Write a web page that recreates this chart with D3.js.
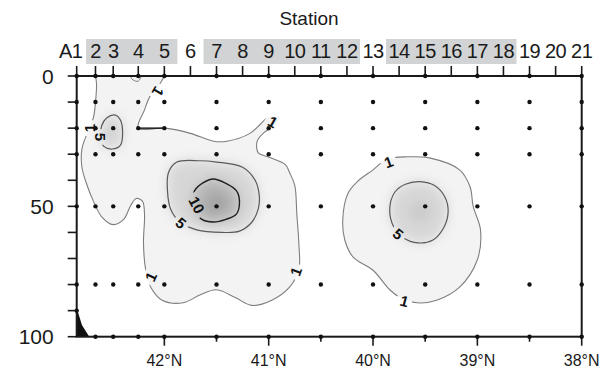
<!DOCTYPE html>
<html>
<head>
<meta charset="utf-8">
<script src="https://cdn.jsdelivr.net/npm/d3@7"></script>
<style>
  html, body { margin: 0; padding: 0; background: #fff; }
  svg { display: block; font-family: "Liberation Sans", Arial, sans-serif; }
</style>
</head>
<body>
<svg id="chart" width="610" height="372"></svg>
<script>
// Stations along the transect and their latitude (°N)
const stationNames = ['A1', '2', '3', '4', '5', '6', '7', '8', '9', '10', '11', '12', '13', '14', '15', '16', '17', '18', '19', '20', '21'];
const stationLats = [42.84, 42.66, 42.49, 42.25, 42.00, 41.75, 41.50, 41.25, 41.00, 40.75, 40.50, 40.25, 40.00, 39.75, 39.50, 39.25, 39.00, 38.75, 38.50, 38.25, 38.00];
// Stations that were sampled, and at which depths (m)
const sampledStations = ['A1', '2', '3', '4', '5', '7', '9', '11', '13', '15', '17', '19', '21'];
const sampleDepths = [0, 10, 20, 30, 50, 80, 100];
const sampleDepthsA1 = [0, 10, 20, 30, 50, 80, 90];
// Station groups highlighted in the top label row
const stationGroups = [['2', '5'], ['7', '12'], ['14', '18']];

const latTicks = [42, 41, 40, 39, 38];
const latMinorTicks = [41.5, 40.5, 39.5, 38.5];
const depthTicks = [0, 10, 20, 30, 40, 50, 60, 70, 80, 90, 100];
const depthLabels = [0, 50, 100];

// Sea floor near station A1: [lat, depth]
const seafloor = [[42.84, 89], [42.79, 95.5], [42.72, 100]];

// Concentration maxima: [lat, depth, value]
const peaks = [[41.50, 49, 14], [39.55, 52, 8], [42.50, 21, 6.5]];

// Contour lines read off the section: [lat, depth]
// level 1, western patch (open, both ends on the surface)
const contour1West = [
  [42.66, 0], [42.65, 3], [42.66, 10], [42.68, 16], [42.74, 22], [42.79, 28], [42.79, 35], [42.74, 42],
  [42.68, 48], [42.60, 54], [42.49, 57], [42.39, 55], [42.32, 49.5], [42.27, 47], [42.21, 48], [42.19, 53],
  [42.20, 64], [42.18, 74], [42.13, 81], [42.02, 86], [41.82, 87], [41.66, 84], [41.50, 82], [41.32, 85],
  [41.16, 88], [40.97, 86], [40.80, 81], [40.71, 74], [40.71, 65], [40.73, 53], [40.75, 42], [40.80, 37],
  [40.84, 34], [41.01, 31], [41.10, 29.5], [41.11, 25], [41.04, 21.5], [40.94, 19], [40.90, 16], [41.01, 16],
  [41.08, 18.5], [41.18, 22], [41.40, 25], [41.53, 25], [41.75, 22], [41.99, 20], [42.25, 20], [42.19, 13],
  [42.14, 8], [42.07, 4.6], [42.02, 1.5], [42.00, 0]
];
const contour1Notch = [[42.33, 0], [42.30, 1.5], [42.25, 2], [42.22, 0]];
// level 1, eastern patch
const contour1East = [
  [39.87, 32], [39.67, 31], [39.45, 31.5], [39.17, 36], [39.07, 42.5], [39.04, 50], [38.97, 59], [39.00, 70.5],
  [39.17, 81], [39.39, 86], [39.58, 87], [39.74, 85], [39.84, 82], [40.00, 74.5], [40.19, 69.5], [40.27, 63],
  [40.29, 55], [40.24, 45], [40.15, 40.5], [40.00, 36]
];
// level 5
const contour5West = [
  [42.55, 16], [42.47, 15], [42.42, 17], [42.40, 22], [42.42, 26.5], [42.50, 28], [42.58, 27], [42.61, 24], [42.60, 19]
];
const contour5Mid = [
  [41.88, 33], [41.66, 32.5], [41.50, 33], [41.25, 35], [41.13, 40], [41.09, 46], [41.10, 51], [41.16, 56],
  [41.28, 59.5], [41.45, 60], [41.69, 59], [41.85, 56], [41.94, 51], [41.97, 44], [41.96, 37]
];
const contour5East = [
  [39.84, 51], [39.79, 44.5], [39.69, 41.5], [39.55, 40.5], [39.41, 42], [39.31, 46.5], [39.28, 52], [39.32, 58],
  [39.43, 63], [39.57, 64], [39.71, 62], [39.80, 58]
];
// level 10
const contour10Mid = [
  [41.71, 44], [41.63, 41], [41.53, 39.5], [41.42, 41], [41.31, 44], [41.28, 48], [41.31, 53], [41.41, 55],
  [41.53, 56], [41.64, 55], [41.70, 52], [41.73, 48]
];
// A stretch of the level-1 line that runs along the 20 m sampling row
const ridge20m = [[42.25, 20], [42.00, 20]];

// Contour labels: [text, lat, depth, angle]
const contourLabels = [
  ['1', 42.06, 6, 120], ['1', 42.72, 20, -90], ['5', 42.61, 23.4, 90], ['1', 40.96, 17.6, 30],
  ['10', 41.69, 49.5, 62], ['5', 41.84, 56.4, 40], ['1', 42.13, 77, -65], ['1', 40.74, 75, -70],
  ['1', 39.85, 33, -20], ['5', 39.76, 60.6, 40], ['1', 39.70, 86.3, 15]
];

const svg = d3.select('#chart');
const x = d3.scaleLinear().domain([42.84, 38]).range([76.7, 581.7]);
const y = d3.scaleLinear().domain([0, 100]).range([76, 336.7]);
const shade = d3.scaleLinear().domain([0, 15]).range(['#ffffff', '#9a9a9a']);
const latOf = name => stationLats[stationNames.indexOf(name)];

const openLine = d3.line().x(d => x(d[0])).y(d => y(d[1])).curve(d3.curveCatmullRom.alpha(0.5));
const closedLine = d3.line().x(d => x(d[0])).y(d => y(d[1])).curve(d3.curveCatmullRomClosed.alpha(0.5));

const defs = svg.append('defs');
defs.append('clipPath').attr('id', 'plot-clip')
  .append('rect')
  .attr('x', x(42.84)).attr('y', y(0))
  .attr('width', x(38) - x(42.84)).attr('height', y(100) - y(0));

const c1Clip = defs.append('clipPath').attr('id', 'c1-clip');
c1Clip.append('path').attr('d', openLine(contour1West) + 'Z');
c1Clip.append('path').attr('d', closedLine(contour1East));

defs.append('filter').attr('id', 'soft')
  .attr('x', '-30%').attr('y', '-30%').attr('width', '160%').attr('height', '160%')
  .append('feGaussianBlur').attr('stdDeviation', 6);

// gaps in the contour lines where the labels sit
const gapMask = defs.append('mask').attr('id', 'label-gaps')
  .attr('maskUnits', 'userSpaceOnUse')
  .attr('x', 0).attr('y', 0).attr('width', 610).attr('height', 372);
gapMask.append('rect').attr('width', 610).attr('height', 372).attr('fill', '#fff');
gapMask.selectAll('rect.gap')
  .data(contourLabels)
  .join('rect')
  .attr('class', 'gap')
  .attr('x', d => -(d[0].length * 4.8 + 3))
  .attr('y', -7.5)
  .attr('width', d => d[0].length * 9.6 + 6)
  .attr('height', 15)
  .attr('fill', '#000')
  .attr('transform', d => `translate(${x(d[1])},${y(d[2])}) rotate(${d[3]})`);

// Shading
const shadeG = svg.append('g').attr('clip-path', 'url(#plot-clip)');
shadeG.append('path').attr('d', openLine(contour1West) + 'Z').attr('fill', shade(1.8));
shadeG.append('path').attr('d', closedLine(contour1East)).attr('fill', shade(1.8));

const innerG = shadeG.append('g').attr('clip-path', 'url(#c1-clip)')
  .append('g').attr('filter', 'url(#soft)');
[contour5West, contour5Mid, contour5East].forEach(c => {
  innerG.append('path').attr('d', closedLine(c)).attr('fill', shade(6));
});
innerG.append('path').attr('d', closedLine(contour10Mid)).attr('fill', shade(11));
innerG.selectAll('circle')
  .data(peaks)
  .join('circle')
  .attr('cx', d => x(d[0]))
  .attr('cy', d => y(d[1]))
  .attr('r', 10)
  .attr('fill', d => shade(d[2]));

// Contour lines
const lineG = svg.append('g')
  .attr('clip-path', 'url(#plot-clip)')
  .append('g')
  .attr('mask', 'url(#label-gaps)')
  .attr('fill', 'none');
lineG.append('path').attr('d', openLine(contour1West)).attr('stroke', '#7e7e7e').attr('stroke-width', 1.1);
lineG.append('path').attr('d', openLine(contour1Notch)).attr('stroke', '#7e7e7e').attr('stroke-width', 1);
lineG.append('path').attr('d', closedLine(contour1East)).attr('stroke', '#7e7e7e').attr('stroke-width', 1.1);
[contour5West, contour5Mid, contour5East].forEach(c => {
  lineG.append('path').attr('d', closedLine(c)).attr('stroke', '#5a5a5a').attr('stroke-width', 1.2);
});
lineG.append('path').attr('d', closedLine(contour10Mid)).attr('stroke', '#1e1e1e').attr('stroke-width', 1.4);
svg.append('path')
  .attr('d', d3.line().x(d => x(d[0])).y(d => y(d[1]))(ridge20m))
  .attr('stroke', '#111').attr('stroke-width', 1.4).attr('fill', 'none');

// Contour labels
svg.append('g')
  .selectAll('text')
  .data(contourLabels)
  .join('text')
  .attr('transform', d => `translate(${x(d[1])},${y(d[2])}) rotate(${d[3]})`)
  .attr('text-anchor', 'middle')
  .attr('dy', '0.36em')
  .attr('font-size', 15)
  .attr('font-weight', 'bold')
  .attr('fill', '#111')
  .text(d => d[0]);

// Sea floor
svg.append('path')
  .datum(seafloor)
  .attr('d', d3.area().x(d => x(d[0])).y0(y(100)).y1(d => y(d[1])))
  .attr('fill', '#111');

// Frame
svg.append('rect')
  .attr('x', x(42.84)).attr('y', y(0))
  .attr('width', x(38) - x(42.84)).attr('height', y(100) - y(0))
  .attr('fill', 'none').attr('stroke', '#1a1a1a').attr('stroke-width', 2);

// Top ticks (one per station)
svg.append('g').selectAll('line')
  .data(stationLats)
  .join('line')
  .attr('x1', d => x(d)).attr('x2', d => x(d))
  .attr('y1', y(0)).attr('y2', y(0) - 10)
  .attr('stroke', '#1a1a1a').attr('stroke-width', 1.6);

// Left ticks and labels
svg.append('g').selectAll('line')
  .data(depthTicks)
  .join('line')
  .attr('x1', x(42.84) - 9).attr('x2', x(42.84))
  .attr('y1', d => y(d)).attr('y2', d => y(d))
  .attr('stroke', '#1a1a1a').attr('stroke-width', 1.6);
svg.append('g').selectAll('text')
  .data(depthLabels)
  .join('text')
  .attr('x', x(42.84) - 23)
  .attr('y', d => y(d))
  .attr('dy', '0.36em')
  .attr('text-anchor', 'end')
  .attr('font-size', 21)
  .attr('fill', '#1a1a1a')
  .text(d => d);

// Bottom ticks and labels
svg.append('g').selectAll('line')
  .data(latTicks)
  .join('line')
  .attr('x1', d => x(d)).attr('x2', d => x(d))
  .attr('y1', y(100)).attr('y2', y(100) + 9)
  .attr('stroke', '#1a1a1a').attr('stroke-width', 1.6);
svg.append('g').selectAll('line')
  .data(latMinorTicks)
  .join('line')
  .attr('x1', d => x(d)).attr('x2', d => x(d))
  .attr('y1', y(100)).attr('y2', y(100) + 5)
  .attr('stroke', '#1a1a1a').attr('stroke-width', 1.6);
svg.append('g').selectAll('text')
  .data(latTicks)
  .join('text')
  .attr('x', d => x(d))
  .attr('y', 366)
  .attr('text-anchor', 'middle')
  .attr('font-size', 16)
  .attr('fill', '#1a1a1a')
  .text(d => `${d}°N`);

// Sample positions
const samples = sampledStations.flatMap(s =>
  (s === 'A1' ? sampleDepthsA1 : sampleDepths).map(dep => [latOf(s), dep]));
svg.append('g').selectAll('circle')
  .data(samples)
  .join('circle')
  .attr('cx', d => x(d[0]))
  .attr('cy', d => y(d[1]))
  .attr('r', 2.2)
  .attr('fill', '#111');

// Station label row
const boxTop = 39, boxBottom = 64;
const mid = (a, b) => (x(latOf(a)) + x(latOf(b))) / 2;
svg.append('g').selectAll('rect')
  .data(stationGroups)
  .join('rect')
  .attr('x', d => mid(stationNames[stationNames.indexOf(d[0]) - 1], d[0]))
  .attr('width', d => mid(d[1], stationNames[stationNames.indexOf(d[1]) + 1]) - mid(stationNames[stationNames.indexOf(d[0]) - 1], d[0]))
  .attr('y', boxTop)
  .attr('height', boxBottom - boxTop)
  .attr('fill', '#d1d3d4');

svg.append('g').selectAll('text')
  .data(stationNames)
  .join('text')
  .attr('x', (d, i) => x(stationLats[i]) - (d === 'A1' ? 6 : 0))
  .attr('y', 58)
  .attr('text-anchor', 'middle')
  .attr('font-size', 20)
  .attr('letter-spacing', -0.5)
  .attr('fill', '#1a1a1a')
  .text(d => d);

svg.append('text')
  .attr('x', 309)
  .attr('y', 25)
  .attr('text-anchor', 'middle')
  .attr('font-size', 19)
  .attr('fill', '#1a1a1a')
  .text('Station');
</script>
</body>
</html>
